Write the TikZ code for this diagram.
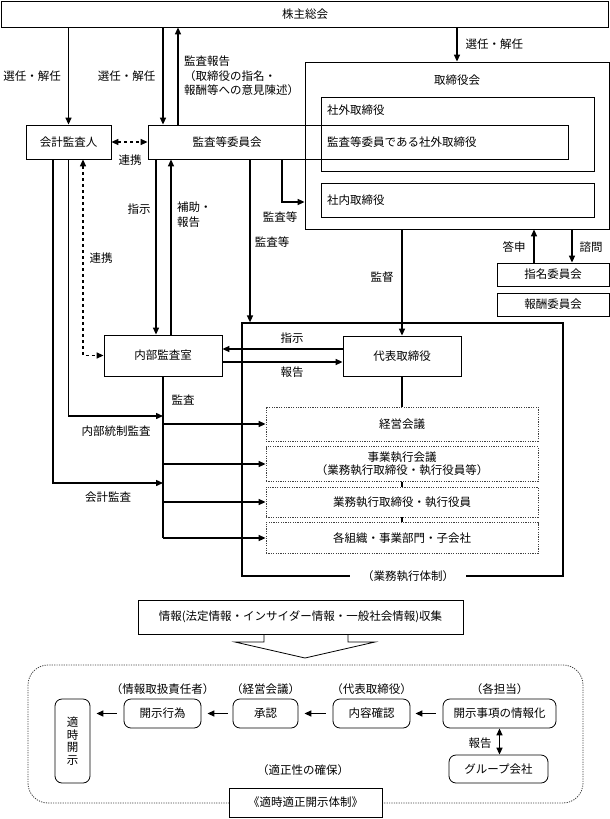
\documentclass[tikz,border=0pt]{standalone}
\usepackage{fontspec}
\setmainfont{Noto Sans CJK JP}
\usetikzlibrary{arrows.meta,positioning}
\tikzset{
	>={Triangle[length=7pt,width=6pt]},
	kasten/.style={draw, line width=0.8pt, inner sep=0pt},
	rund/.style={kasten, rounded corners=7pt},
	punktkasten/.style={draw=black!75, line width=0.8pt, dash pattern=on 1.2pt off 1.2pt, inner sep=0pt, minimum width=272},
	pfeil/.style={line width=1.4pt},
	txt/.style={inner sep=1pt}
}
\begin{document}
\begin{tikzpicture}[x=1pt, y=-1pt, font=\fontsize{11.5}{14.5}\selectfont]
		\useasboundingbox (0,0) rectangle (610,819);
		% Hilfspunkte
		\coordinate (cA) at (53,0);
		\coordinate (cC) at (83,0);
		\coordinate (cD) at (156,0);
		\coordinate (cE) at (163,0);
		\coordinate (cF) at (171,0);
		\coordinate (cG) at (178,0);
		\coordinate (cH) at (250,0);
		\coordinate (cI) at (282,202);
		\coordinate (cJ) at (534,0);
		\coordinate (cK) at (572,0);
		\coordinate (rA) at (0,416);
		\coordinate (rB) at (0,483);
		\coordinate (rC) at (0,349);
		\coordinate (rD) at (0,362);
		% Gremien
		\node[kasten, minimum width=607, minimum height=26] (kabunushi) at (305,14) {株主総会};
		\node[kasten, minimum width=85, minimum height=34] (kaikei) at (68.5,142) {会計監査人};
		\node[kasten, minimum width=304, minimum height=167] (torikai) at (457,145.5) {};
		\node[txt] (lTorikai) at (457,80) {取締役会};
		\node[kasten, minimum width=273, minimum height=74] (shagai) at (457.5,134) {};
		\node[txt, anchor=west] (lShagai) at (326,110) {社外取締役};
		\node[kasten, minimum width=420, minimum height=34] (kansaiin) at (358,142) {};
		\node[txt] (lKansaiin) at (227,142) {監査等委員会};
		\node[txt, anchor=west] (lKansaiin2) at (326,142) {監査等委員である社外取締役};
		\node[kasten, minimum width=273, minimum height=34] (shanai) at (457.5,200) {};
		\node[txt, anchor=west] (lShanai) at (326,200) {社内取締役};
		\node[kasten, minimum width=112, minimum height=23] (shimei) at (553,274.5) {指名委員会};
		\node[kasten, minimum width=112, minimum height=23] (hoshu) at (553,304.5) {報酬委員会};
		% Ausfuehrung
		\node[kasten, minimum width=118, minimum height=41] (naibu) at (163,355.5) {内部監査室};
		\node[kasten, line width=1.2pt, minimum width=321, minimum height=253] (gyomu) at (402.5,449.5) {};
		\node[txt, fill=white, inner xsep=12pt] (lGyomu) at (408,576) {（業務執行体制）};
		\node[kasten, minimum width=118, minimum height=40] (daihyo) at (402,356) {代表取締役};
		\node[punktkasten, minimum height=34] (keiei) at (402,424) {経営会議};
		\node[punktkasten, minimum height=35, align=center, font=\fontsize{11.5}{13}\selectfont] (jigyo) at (402,464) {事業執行会議\\（業務執行取締役・執行役員等）};
		\node[punktkasten, minimum height=30] (shikko) at (402,502) {業務執行取締役・執行役員};
		\node[punktkasten, minimum height=31] (soshiki) at (402,538) {各組織・事業部門・子会社};
		% Pfeile oben
		\draw[->, pfeil] (kabunushi.south -| kaikei.north) -- (kaikei.north) node[txt, midway, left=6pt] (lSennin1) {選任・解任};
		\draw[->, pfeil] (kabunushi.south -| cE) -- (kansaiin.north -| cE) node[txt, midway, left=6pt] (lSennin2) {選任・解任};
		\draw[->, pfeil] (kansaiin.north -| cG) -- (kabunushi.south -| cG);
		\node[txt, anchor=north west, align=left] (lHokoku) at (183,55) {監査報告\\（取締役の指名・\\報酬等への意見陳述）};
		\draw[->, pfeil] (kabunushi.south -| torikai.north) -- (torikai.north) node[txt, midway, right=7pt] (lSennin3) {選任・解任};
		\draw[<->, pfeil, dashed] (kaikei.east) -- (kansaiin.west);
		\node[txt] (lRenkei1) at (130,160) {連携};
		% Pfeile links
		\draw[->, pfeil] (kaikei.south -| cA) |- (naibu.south |- rB);
		\node[txt] (lKaikei) at (108,497) {会計監査};
		\draw[->, pfeil] (kaikei.south) |- (naibu.south |- rA);
		\node[txt] (lNaibu) at (116,431) {内部統制監査};
		\draw[<->, pfeil, dashed] (kaikei.south -| cC) |- (naibu.west);
		\node[txt] (lRenkei2) at (101,258) {連携};
		\draw[->, pfeil] (kansaiin.south -| cD) -- (naibu.north -| cD);
		\node[txt] (lShiji1) at (139,209) {指示};
		\draw[->, pfeil] (naibu.north -| cF) -- (kansaiin.south -| cF);
		\node[txt, anchor=north west, align=left] (lHojo) at (176,201) {補助・\\報告};
		\draw[->, pfeil] (kansaiin.south -| cH) -- (gyomu.north -| cH);
		\node[txt] (lKansa1) at (272,242) {監査等};
		\draw[->, pfeil] (kansaiin.south -| cI) |- (torikai.west |- cI);
		\node[txt] (lKansa2) at (280,217) {監査等};
		% Pfeile rechts
		\draw[->, pfeil] (torikai.south -| daihyo.north) -- (daihyo.north);
		\node[txt] (lKantoku) at (382,277) {監督};
		\draw[->, pfeil] (shimei.north -| cJ) -- (torikai.south -| cJ);
		\node[txt] (lToshin) at (514,247) {答申};
		\draw[->, pfeil] (torikai.south -| cK) -- (shimei.north -| cK);
		\node[txt] (lShimon) at (591,247) {諮問};
		\draw[->, pfeil] (daihyo.west |- rC) -- (naibu.east |- rC);
		\node[txt] (lShiji2) at (292,338) {指示};
		\draw[->, pfeil] (naibu.east |- rD) -- (daihyo.west |- rD);
		\node[txt] (lHokoku2) at (292,372) {報告};
		% Audit-Linie
		\draw[pfeil] (naibu.south) -- (naibu.south |- soshiki.west);
		\node[txt] (lKansa3) at (183,400) {監査};
		\foreach \b in {keiei,jigyo,shikko,soshiki}
			\draw[->, pfeil] (naibu.south |- \b.west) -- (\b.west);
		\draw[pfeil] (daihyo.south) -- (keiei.north);
		\draw[pfeil] (jigyo.south) -- (shikko.north);
		\draw[pfeil] (shikko.south) -- (soshiki.north);
		% Informationen
		\node[kasten, minimum width=325, minimum height=34] (joho) at (300.5,617) {情報(法定情報・インサイダー情報・一般社会情報)収集};
		\draw[line width=0.8pt] (264,634) -- (264,642) -- (235,642) -- (305,658) -- (375,642) -- (348,642) -- (348,634);
		% Offenlegung
		\draw[draw=black!75, line width=0.8pt, dash pattern=on 1.2pt off 1.2pt, rounded corners=20pt] (28,665) rectangle (583,803);
		\node[rund, minimum width=35, minimum height=84, align=center, font=\fontsize{11.5}{12.5}\selectfont] (tekiji) at (72.5,741) {適\\時\\開\\示};
		\node[rund, minimum width=77, minimum height=29] (kaiji) at (162.5,713.5) {開示行為};
		\node[rund, minimum width=65, minimum height=29] (shonin) at (265.5,713.5) {承認};
		\node[rund, minimum width=77, minimum height=29] (naiyo) at (371.5,713.5) {内容確認};
		\node[rund, minimum width=113, minimum height=29] (johoka) at (499.5,713.5) {開示事項の情報化};
		\node[rund, minimum width=99, minimum height=28] (group) at (498.5,769) {グループ会社};
		\node[txt, above=3pt of kaiji] (lKaiji) {（情報取扱責任者）};
		\node[txt, above=3pt of shonin] (lShonin) {（経営会議）};
		\node[txt, above=3pt of naiyo] (lNaiyo) {（代表取締役）};
		\node[txt, above=3pt of johoka] (lJohoka) {（各担当）};
		\draw[->, pfeil, shorten <=7pt, shorten >=6pt] (kaiji.west) -- (tekiji.east |- kaiji.west);
		\draw[->, pfeil, shorten <=5pt, shorten >=6pt] (shonin.west) -- (kaiji.east);
		\draw[->, pfeil, shorten <=7pt, shorten >=6pt] (naiyo.west) -- (shonin.east);
		\draw[->, pfeil, shorten <=7pt, shorten >=5pt] (johoka.west) -- (naiyo.east);
		\draw[<->, pfeil] (johoka.south) -- (group.north -| johoka.south);
		\node[txt] (lHokoku3) at (480,743) {報告};
		\node[txt] (lTekisei) at (303,770) {（適正性の確保）};
		\node[kasten, fill=white, minimum width=153, minimum height=29] (taisei) at (305.5,802.5) {《適時適正開示体制》};
	\end{tikzpicture}
\end{document}
